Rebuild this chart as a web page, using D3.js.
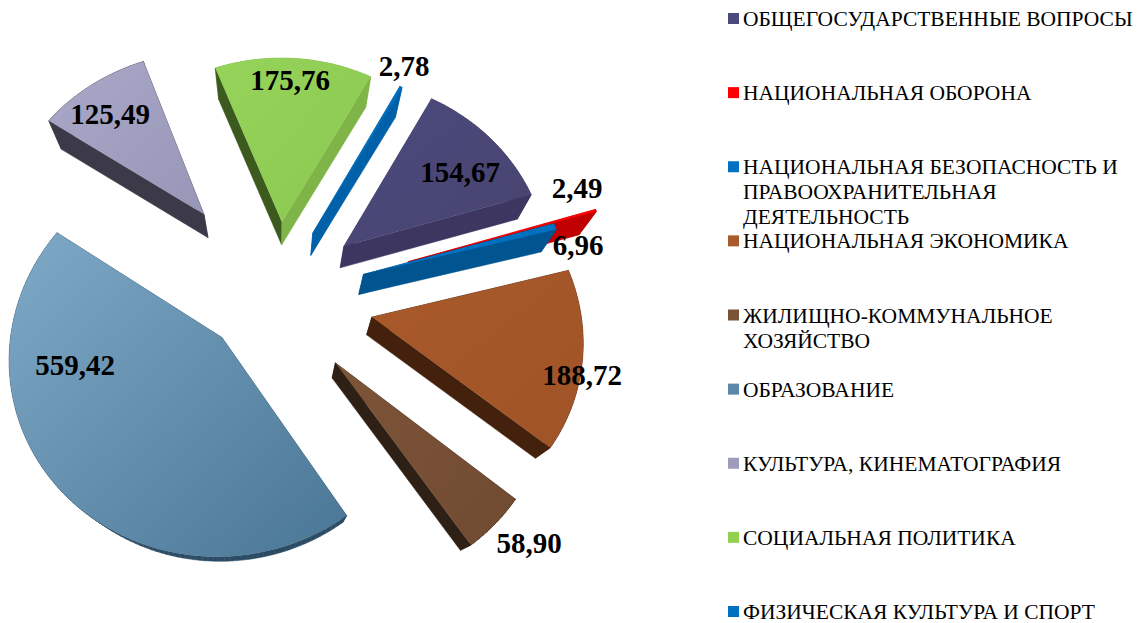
<!DOCTYPE html>
<html>
<head>
<meta charset="utf-8">
<script src="https://cdn.jsdelivr.net/npm/d3@7"></script>
<style>
html, body { margin: 0; padding: 0; background: #fff; }
svg { display: block; }
text { font-family: "Liberation Serif", serif; }
</style>
</head>
<body>
<div id="svg"></div>
<script>
const categories = [
    "ОБЩЕГОСУДАРСТВЕННЫЕ ВОПРОСЫ",
    "НАЦИОНАЛЬНАЯ ОБОРОНА",
    "НАЦИОНАЛЬНАЯ БЕЗОПАСНОСТЬ И\nПРАВООХРАНИТЕЛЬНАЯ\nДЕЯТЕЛЬНОСТЬ",
    "НАЦИОНАЛЬНАЯ ЭКОНОМИКА",
    "ЖИЛИЩНО-КОММУНАЛЬНОЕ\nХОЗЯЙСТВО",
    "ОБРАЗОВАНИЕ",
    "КУЛЬТУРА, КИНЕМАТОГРАФИЯ",
    "СОЦИАЛЬНАЯ ПОЛИТИКА",
    "ФИЗИЧЕСКАЯ КУЛЬТУРА И СПОРТ"
];
const values = [154.67, 2.49, 6.96, 188.72, 58.90, 559.42, 125.49, 175.76, 2.78];

// how far each slice is pulled out of the pie, and how many degrees off its middle
const explode = [87, 140, 92, 100.6, 96, 71, 113, 78, 76];
const explodeTurn = [3.8, 3.1, 3.7, 3.7, 4.4, 1, -1.4, 2.1, 2.5];
// top face light/dark, then the two side walls
const topLight = ["#4c4a7e", "#ff0000", "#0070c0", "#a85a2b", "#7d5539", "#7ea9c7", "#aaa8c8", "#95d35a", "#0070c0"];
const topDark = ["#47446f", "#ff0000", "#0070c0", "#a05326", "#704a30", "#4a7695", "#9896b6", "#8cc850", "#0070c0"];
const wallStart = ["#3c3660", "#c00000", "#005590", "#44210d", "#2e2014", "#2b4a63", "#3c3a48", "#3d5a1e", "#0060a8"];
const wallEnd = ["#3c3660", "#c00000", "#005590", "#44210d", "#2e2014", "#2b4a63", "#3c3a48", "#7fb548", "#0060a8"];
const legendColors = ["#4a4a7c", "#ff0000", "#0070c0", "#a85a2a", "#7a5236", "#5b88a8", "#9e9cbc", "#92d050", "#0070c0"];
const labelAnchors = [[460, 182], [577, 198], [578, 255], [582, 385], [529, 553], [75, 375], [110, 124], [290, 90], [404, 76]];

const width = 1147;
const height = 623;
const centerX = 274;
const centerY = 291;
const radius = 207;
const persp = 2300;
const squash = 0.92;
const vanish = [277, 640];
const depth = 0.055;
const firstAngle = 29.5;

function project(x, y) {
    const s = persp / (persp - y);
    return [centerX + x * s, centerY + squash * y * s];
}

// floor of the slice: the top face pulled towards the vanishing point
function lower(p) {
    return [p[0] + depth * (vanish[0] - p[0]), p[1] + depth * (vanish[1] - p[1])];
}

const pie = d3.pie()
                .sort(null)
                .startAngle(firstAngle * Math.PI / 180)
                .endAngle((firstAngle + 360) * Math.PI / 180);

const line = d3.line();

let svg = d3.select('#svg')
                .append('svg')
                    .attr('width', width)
                    .attr('height', height);

let defs = svg.append('defs');

pie(values).forEach((slice, i) => {
    let grad = defs.append('linearGradient')
                    .attr('id', 'top' + i)
                    .attr('x1', 0).attr('y1', 0)
                    .attr('x2', 1).attr('y2', 1);
    grad.append('stop').attr('offset', 0).attr('stop-color', topLight[i]);
    grad.append('stop').attr('offset', 1).attr('stop-color', topDark[i]);

    const mid = (slice.startAngle + slice.endAngle) / 2 + explodeTurn[i] * Math.PI / 180;
    const ox = explode[i] * Math.sin(mid);
    const oy = -explode[i] * Math.cos(mid);
    const apex = project(ox, oy);

    const steps = Math.max(2, Math.ceil((slice.endAngle - slice.startAngle) * 40));
    const rim = d3.range(steps + 1).map((k) => {
        const a = slice.startAngle + (slice.endAngle - slice.startAngle) * k / steps;
        return project(ox + radius * Math.sin(a), oy - radius * Math.cos(a));
    });

    let g = svg.append('g').attr('class', 'slice');

    // walls first, the top face covers whatever should stay hidden
    const quad = (a, b, colour) => {
        g.append('path')
            .attr('d', line([a, b, lower(b), lower(a)]) + 'Z')
            .attr('fill', colour)
            .attr('stroke', colour)
            .attr('stroke-width', 0.5);
    };
    for (let k = 0; k < steps; k++) {
        quad(rim[k], rim[k + 1], wallEnd[i]);
    }
    quad(apex, rim[0], wallStart[i]);
    quad(apex, rim[steps], wallEnd[i]);

    g.append('path')
        .attr('d', line([apex].concat(rim)) + 'Z')
        .attr('fill', 'url(#top' + i + ')');
});

// value labels
svg.append('g')
    .selectAll('text')
    .data(values)
    .enter()
        .append('text')
            .attr('x', (d, i) => labelAnchors[i][0])
            .attr('y', (d, i) => labelAnchors[i][1])
            .attr('text-anchor', 'middle')
            .attr('font-size', 29)
            .attr('font-weight', 'bold')
            .attr('fill', '#000')
            .text((d) => d.toFixed(2).replace('.', ','));

// legend
const legendY = d3.scalePoint()
                    .domain(categories)
                    .range([26, 619]);

let legend = svg.append('g')
    .selectAll('g')
    .data(categories)
    .enter()
        .append('g')
            .attr('transform', (d) => `translate(0, ${legendY(d)})`);

legend.append('rect')
    .attr('x', 728)
    .attr('y', -13)
    .attr('width', 11)
    .attr('height', 11)
    .attr('fill', (d, i) => legendColors[i]);

legend.each(function(d) {
    d3.select(this).selectAll('text')
        .data(d.split('\n'))
        .enter()
            .append('text')
                .attr('x', 743)
                .attr('y', (t, k) => k * 25)
                .attr('font-size', 21.5)
                .attr('fill', '#000')
                .text((t) => t);
});
</script>
</body>
</html>
